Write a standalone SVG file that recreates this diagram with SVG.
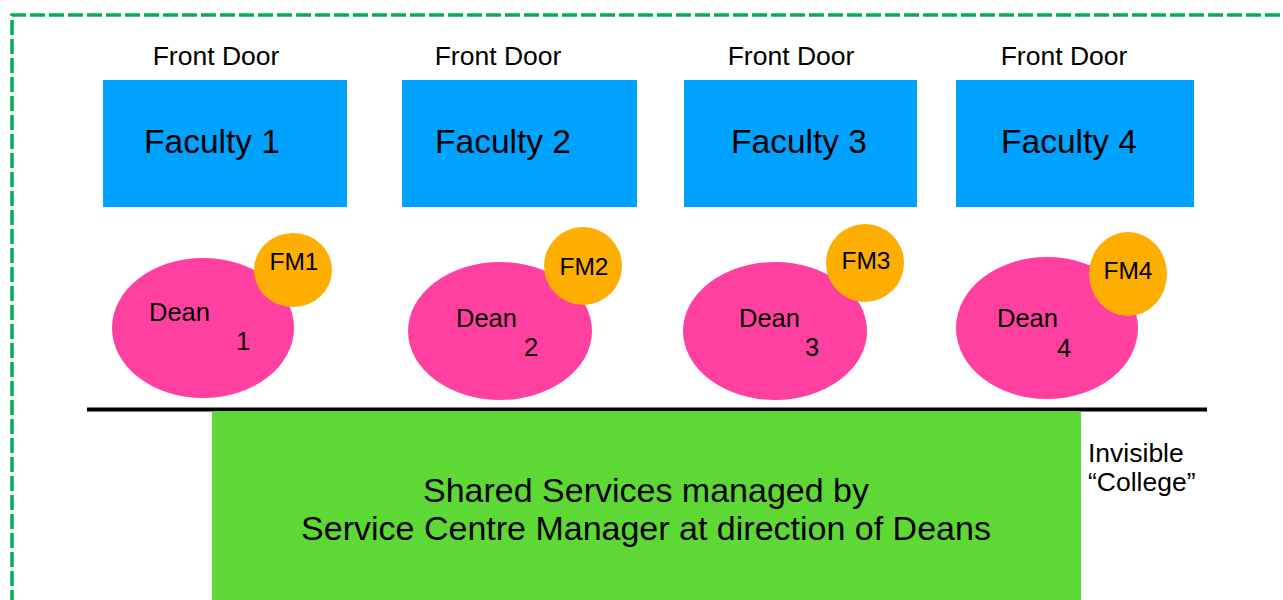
<svg xmlns="http://www.w3.org/2000/svg" width="1283" height="600" viewBox="0 0 1283 600">
<style>
text{font-family:"Liberation Sans",Arial,sans-serif;fill:#000}
.fd{font-size:26.5px;text-anchor:middle}
.fac{fill:#00A2FF}
.ft{font-size:33.5px;text-anchor:middle}
.dean{fill:#FF40A0}
.fm{fill:#FEAE00}
.dt{font-size:25.5px}
.ct{font-size:24.5px;text-anchor:middle}
.sh{font-size:34px;text-anchor:middle}
.cl{font-size:26.5px}
</style>
<rect x="0" y="0" width="1283" height="600" fill="#fff"/>
<path d="M12 605 V15 H1290" fill="none" stroke="#00B050" stroke-width="3.5" stroke-dasharray="15 4"/>
<g id="faculty1"><text class="fd" x="216" y="65">Front Door</text><rect class="fac" x="103" y="80" width="244" height="127"/><text class="ft" x="212" y="153">Faculty 1</text></g>
<g id="faculty2"><text class="fd" x="498" y="65">Front Door</text><rect class="fac" x="402" y="80" width="235" height="127"/><text class="ft" x="503" y="153">Faculty 2</text></g>
<g id="faculty3"><text class="fd" x="791" y="65">Front Door</text><rect class="fac" x="684" y="80" width="233" height="127"/><text class="ft" x="799" y="153">Faculty 3</text></g>
<g id="faculty4"><text class="fd" x="1064" y="65">Front Door</text><rect class="fac" x="956" y="80" width="238" height="127"/><text class="ft" x="1069" y="153">Faculty 4</text></g>
<g id="dean1"><ellipse class="dean" cx="203" cy="328" rx="91" ry="70"/><text class="dt" x="149" y="321">Dean</text><text class="dt" x="236" y="350">1</text></g>
<g id="fm1"><ellipse class="fm" cx="293" cy="270" rx="39" ry="37"/><text class="ct" x="294" y="270">FM1</text></g>
<g id="dean2"><ellipse class="dean" cx="500" cy="331" rx="92" ry="69"/><text class="dt" x="456" y="327">Dean</text><text class="dt" x="524" y="356">2</text></g>
<g id="fm2"><ellipse class="fm" cx="583" cy="266" rx="39" ry="39"/><text class="ct" x="584" y="275">FM2</text></g>
<g id="dean3"><ellipse class="dean" cx="775" cy="331" rx="92" ry="69"/><text class="dt" x="739" y="327">Dean</text><text class="dt" x="805" y="356">3</text></g>
<g id="fm3"><ellipse class="fm" cx="865" cy="263" rx="39" ry="39"/><text class="ct" x="866" y="269">FM3</text></g>
<g id="dean4"><ellipse class="dean" cx="1047" cy="328" rx="91" ry="71"/><text class="dt" x="997" y="327">Dean</text><text class="dt" x="1057" y="357">4</text></g>
<g id="fm4"><ellipse class="fm" cx="1128" cy="274" rx="39" ry="42"/><text class="ct" x="1128" y="279">FM4</text></g>
<g id="connectors"><line x1="87" y1="409.5" x2="1207" y2="409.5" stroke="#000" stroke-width="4"/></g>
<g id="shared"><rect x="212" y="411" width="869" height="195" fill="#5DD834"/>
<text class="sh" x="646" y="502">Shared Services managed by</text>
<text class="sh" x="646" y="540">Service Centre Manager at direction of Deans</text></g>
<g id="college"><text class="cl" x="1088" y="462">Invisible</text><text class="cl" x="1088" y="491">“College”</text></g>
</svg>
